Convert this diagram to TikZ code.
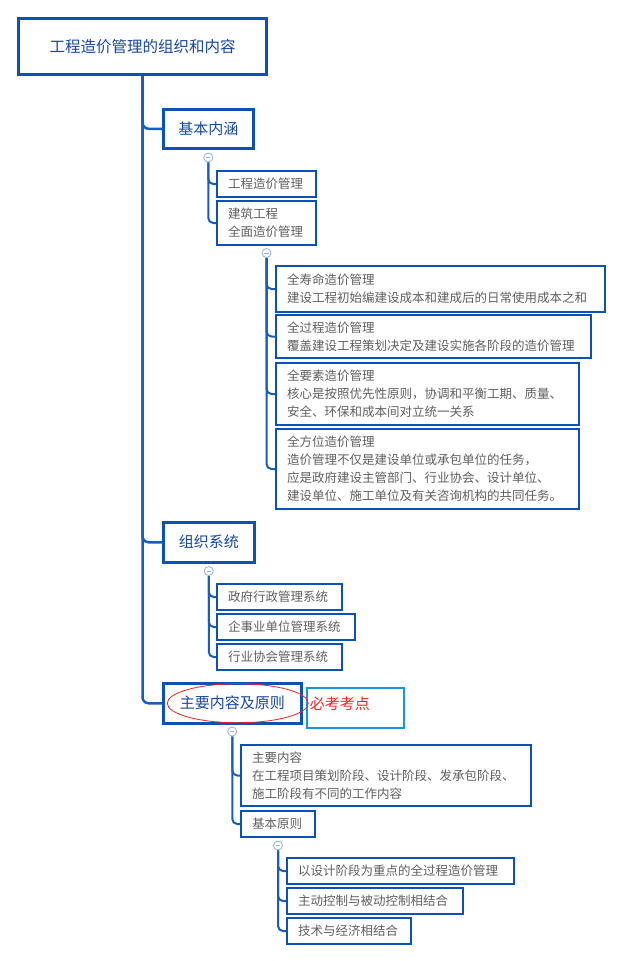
\documentclass[tikz,border=0pt]{standalone}
\usepackage{fontspec}
\setmainfont{Noto Sans CJK SC}
\definecolor{frame}{RGB}{12,82,182}
\definecolor{wire}{RGB}{24,92,190}
\definecolor{head}{RGB}{22,72,160}
\definecolor{body}{RGB}{95,95,95}
\definecolor{knob}{RGB}{150,176,222}
\definecolor{tagblue}{RGB}{20,150,225}
\definecolor{alert}{RGB}{250,35,35}
\usetikzlibrary{positioning,backgrounds}
\tikzset{
  topic/.style={draw=frame, line width=2.5pt, fill=white, text=head, inner sep=0pt,
              anchor=north west, font=\fontsize{15}{18}\selectfont},
  leaf/.style={draw=frame, line width=2pt, fill=white, text=body, inner xsep=11pt,
              inner ysep=0pt, align=left, anchor=north west, font=\fontsize{12.5}{18}\selectfont},
  trunk/.style={draw=wire, line width=2.5pt, rounded corners=6pt},
  twig/.style={draw=wire, line width=2pt, rounded corners=5pt},
  fold/.style={circle, draw=knob, fill=white, line width=0.8pt, minimum size=9pt, inner sep=0pt,
              path picture={\draw[knob, line width=0.8pt] ([xshift=-2.2pt]path picture bounding box.center)
                -- ([xshift=2.2pt]path picture bounding box.center);}},
  tag/.style={draw=tagblue, line width=1.5pt, text=alert, anchor=north west,
              font=\fontsize{15}{18}\selectfont, inner xsep=3pt, inner ysep=8pt,
              text height=14pt, text depth=10pt},
}

\begin{document}
\begin{tikzpicture}[x=1pt, y=-1pt]
  \useasboundingbox (0,0) rectangle (620,961);
  \node[topic, line width=3pt, minimum width=248pt, minimum height=56pt, font=\fontsize{15.5}{18}\selectfont] (root) at (17,17) {工程造价管理的组织和内容};
  \node[topic, minimum width=90pt, minimum height=39pt] (jbnh) at (162,108) {基本内涵};
  \node[leaf, text width=77pt, minimum height=26pt] (gczj) at (216,170) {工程造价管理};
  \node[leaf, text width=77pt, minimum height=44pt] (jzgc) at (216,200) {建筑工程\\全面造价管理};
  \node[leaf, text width=307pt, minimum height=46pt] (qsm) at (275,265) {全寿命造价管理\\建设工程初始编建设成本和建成后的日常使用成本之和};
  \node[leaf, text width=293pt, minimum height=43pt] (qgc) at (275,314) {全过程造价管理\\覆盖建设工程策划决定及建设实施各阶段的造价管理};
  \node[leaf, text width=281pt, minimum height=62pt] (qys) at (275,362) {全要素造价管理\\核心是按照优先性原则，协调和平衡工期、质量、\\安全、环保和成本间对立统一关系};
  \node[leaf, text width=281pt, minimum height=80pt] (qfw) at (275,428) {全方位造价管理\\造价管理不仅是建设单位或承包单位的任务，\\应是政府建设主管部门、行业协会、设计单位、\\建设单位、施工单位及有关咨询机构的共同任务。};
  \node[topic, minimum width=91pt, minimum height=40pt] (zzxt) at (162,521) {组织系统};
  \node[leaf, text width=103pt, minimum height=26pt] (zf) at (216,583) {政府行政管理系统};
  \node[leaf, text width=116pt, minimum height=26pt] (qsy) at (216,613) {企事业单位管理系统};
  \node[leaf, text width=103pt, minimum height=26pt] (hy) at (216,643) {行业协会管理系统};
  \node[topic, minimum width=138pt, minimum height=40pt] (zyyz) at (162,682) {主要内容及原则};
  \node[tag, text width=91pt] (bkkd) at (306,687) {必考考点};
  \node[leaf, text width=268pt, minimum height=61pt] (zynr) at (240,744) {主要内容\\在工程项目策划阶段、设计阶段、发承包阶段、\\施工阶段有不同的工作内容};
  \node[leaf, text width=52pt, minimum height=26pt] (jbyz) at (240,810) {基本原则};
  \node[leaf, text width=205pt, minimum height=26pt] (sjjd) at (286,857) {以设计阶段为重点的全过程造价管理};
  \node[leaf, text width=154pt, minimum height=26pt] (zdkz) at (286,887) {主动控制与被动控制相结合};
  \node[leaf, text width=102pt, minimum height=26pt] (jsjj) at (286,917) {技术与经济相结合};

  \node[fold] (f1) at ([yshift=-8pt]jbnh.south) {};
  \node[fold] (f2) at ([yshift=-7pt]jzgc.south) {};
  \node[fold] (f3) at ([yshift=-7.5pt]zzxt.south) {};
  \node[fold] (f4) at ([yshift=-7pt]zyyz.south) {};
  \node[fold] (f5) at ([yshift=-7.5pt]jbyz.south) {};

  \begin{scope}[on background layer]
    \draw[trunk] (root.south) |- (jbnh.west);
    \draw[trunk] (root.south) |- (zzxt.west);
    \draw[trunk] (root.south) |- (zyyz.west);
    \draw[twig] (f1.south) |- (gczj.west);
    \draw[twig] (f1.south) |- (jzgc.west);
    \draw[twig] (f2.south) |- (qsm.west);
    \draw[twig] (f2.south) |- (qgc.west);
    \draw[twig] (f2.south) |- (qys.west);
    \draw[twig] (f2.south) |- (qfw.west);
    \draw[twig] (f3.south) |- (zf.west);
    \draw[twig] (f3.south) |- (qsy.west);
    \draw[twig] (f3.south) |- (hy.west);
    \draw[twig] (f4.south) |- (zynr.west);
    \draw[twig] (f4.south) |- (jbyz.west);
    \draw[twig] (f5.south) |- (sjjd.west);
    \draw[twig] (f5.south) |- (zdkz.west);
    \draw[twig] (f5.south) |- (jsjj.west);
  \end{scope}

  \draw[alert, line width=0.8pt] ([xshift=5.5pt]zyyz.center) ellipse [x radius=70.5pt, y radius=19.5pt];
\end{tikzpicture}
\end{document}
